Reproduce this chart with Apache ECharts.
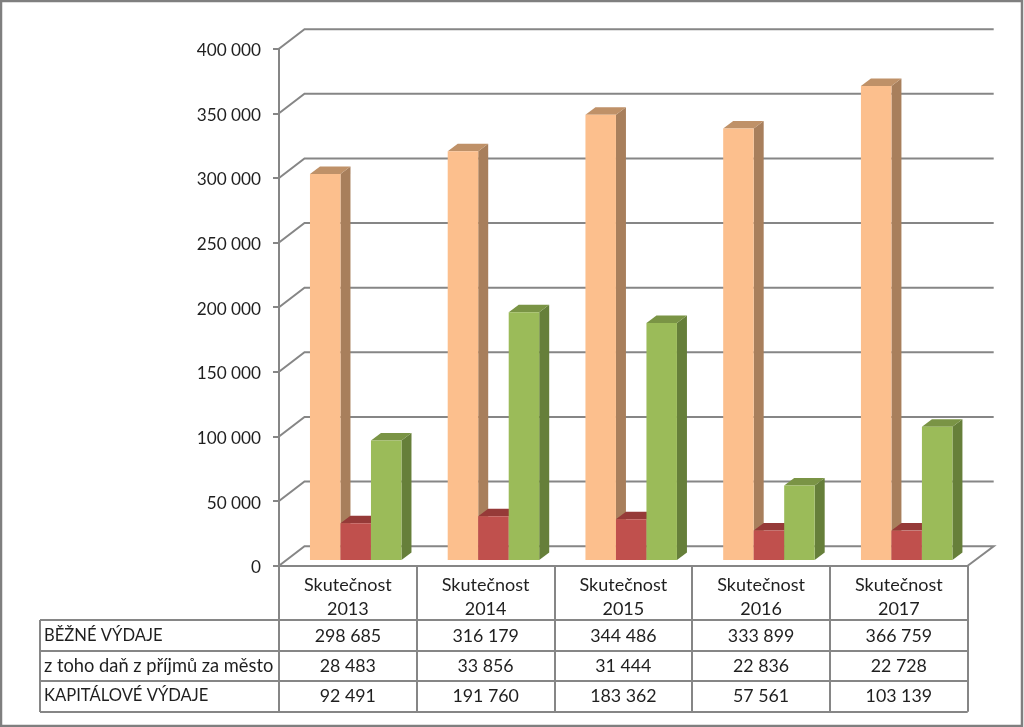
<!DOCTYPE html>
<html><head><meta charset="utf-8">
<style>html,body{margin:0;padding:0;background:#fff}#c{width:1024px;height:727px}</style>
<script src="https://cdn.jsdelivr.net/npm/echarts@6/dist/echarts.min.js"></script>
</head><body><div id="c"></div>
<script>
const categories = ['Skutečnost\n2013','Skutečnost\n2014','Skutečnost\n2015','Skutečnost\n2016','Skutečnost\n2017'];
const rowLabels = ['BĚŽNÉ VÝDAJE','z toho daň z příjmů za město','KAPITÁLOVÉ VÝDAJE'];
const bezne = [298685,316179,344486,333899,366759];
const dan = [28483,33856,31444,22836,22728];
const kapitalove = [92491,191760,183362,57561,103139];
const ticks = [0,50000,100000,150000,200000,250000,300000,350000,400000];

const fmt = v => String(v).replace(/\B(?=(\d{3})+$)/g,' ');
const LINE = '#868686', TXT = '#1f1f1f', FONT = 'Lato';
const chart = echarts.init(document.getElementById('c'),null,{renderer:'canvas'});

const barW=30.5, firstOff=-37.9, floorY=5.7, dpX=10, dpY=7.5;
function barSeries(name,data,k,front,top,side){
  return {type:'custom',name,z:3,data:data.map((v,i)=>[i,v]),encode:{x:0,y:1},
    renderItem(p,api){
      const c=api.coord([api.value(0),api.value(1)]), b=api.coord([api.value(0),0]);
      const x1=c[0]+firstOff+k*barW, x2=x1+barW, yT=c[1]-floorY, yB=b[1]-floorY;
      return {type:'group',children:[
        {type:'polygon',shape:{points:[[x2,yT],[x2+dpX,yT-dpY],[x2+dpX,yB-dpY],[x2,yB]]},style:{fill:side}},
        {type:'polygon',shape:{points:[[x1,yT],[x2,yT],[x2+dpX,yT-dpY],[x1+dpX,yT-dpY]]},style:{fill:top}},
        {type:'rect',shape:{x:x1,y:yT,width:barW,height:yB-yT},style:{fill:front}}
      ]};
    }};
}
const gridSeries={type:'custom',z:1,silent:true,data:ticks.map(t=>[0,t]),encode:{x:0,y:1},
  renderItem(p,api){
    const y=api.coord([0,api.value(1)])[1], L=p.coordSys.x, R=L+p.coordSys.width;
    const pts=[[L,y],[L+25.5,y-19.5],[R+26,y-19.5]];
    if(api.value(1)===0) pts.push([R,y]);
    return {type:'group',children:[
      {type:'polyline',shape:{points:pts},style:{stroke:LINE,lineWidth:2,fill:null}},
      {type:'text',style:{x:L-18,y:y+2,text:fmt(api.value(1)),fill:TXT,font:'17.2px '+FONT,align:'right',verticalAlign:'middle'}}
    ]};
  }};
const rows=[bezne,dan,kapitalove], rowY=[636,666,696];
const rowFont=[16.6,18.3,16.6];
const tableData=[]; rows.forEach((r,ri)=>r.forEach((v,i)=>tableData.push([i,v,ri])));
const tableSeries={type:'custom',z:4,silent:true,data:tableData,encode:{x:0},
  renderItem(p,api){
    const x=api.coord([api.value(0),0])[0];
    return {type:'text',style:{x,y:rowY[api.value(2)],text:fmt(api.value(1)),fill:TXT,
      font:'17.8px '+FONT,align:'center',verticalAlign:'middle'}};
  }};
const hl=(y,x1)=>({type:'line',shape:{x1,y1:y,x2:967.7,y2:y},style:{stroke:LINE,lineWidth:2},z:2});
chart.setOption({
  animation:false,backgroundColor:'#fff',
  grid:{left:279,top:48.7,width:688.7,height:517},
  xAxis:{type:'category',data:categories,boundaryGap:true,
    axisLine:{show:true,lineStyle:{color:LINE,width:2}},
    axisTick:{show:true,length:146,lineStyle:{color:LINE,width:2}},
    axisLabel:{color:TXT,fontFamily:FONT,fontSize:18,lineHeight:24,margin:7,interval:0},splitLine:{show:false}},
  yAxis:{type:'value',min:0,max:400000,interval:50000,
    axisLine:{show:true,lineStyle:{color:LINE,width:2}},
    axisTick:{show:true,length:6,lineStyle:{color:LINE,width:2}},
    axisLabel:{show:false},splitLine:{show:false}},
  graphic:[
    {type:'rect',shape:{x:1,y:1,width:1021,height:725},style:{stroke:'#7f7f7f',lineWidth:2.5,fill:null},z:10},
    hl(620,40),hl(651,40),hl(681,40),hl(712,40),
    {type:'line',shape:{x1:40,y1:620,x2:40,y2:712},style:{stroke:LINE,lineWidth:2},z:2},
    ...rowLabels.map((t,i)=>({type:'text',style:{x:44,y:rowY[i],text:t,fill:TXT,font:rowFont[i]+'px '+FONT,align:'left',verticalAlign:'middle'},z:4}))
  ],
  series:[gridSeries,
    barSeries('BĚŽNÉ VÝDAJE',bezne,0,'#FCBF8D','#BF9168','#A87F5C'),
    barSeries('z toho daň z příjmů za město',dan,1,'#C0504D','#963A38','#85302E'),
    barSeries('KAPITÁLOVÉ VÝDAJE',kapitalove,2,'#9BBB59','#7A9445','#667F3A'),
    tableSeries]
});
</script></body></html>
